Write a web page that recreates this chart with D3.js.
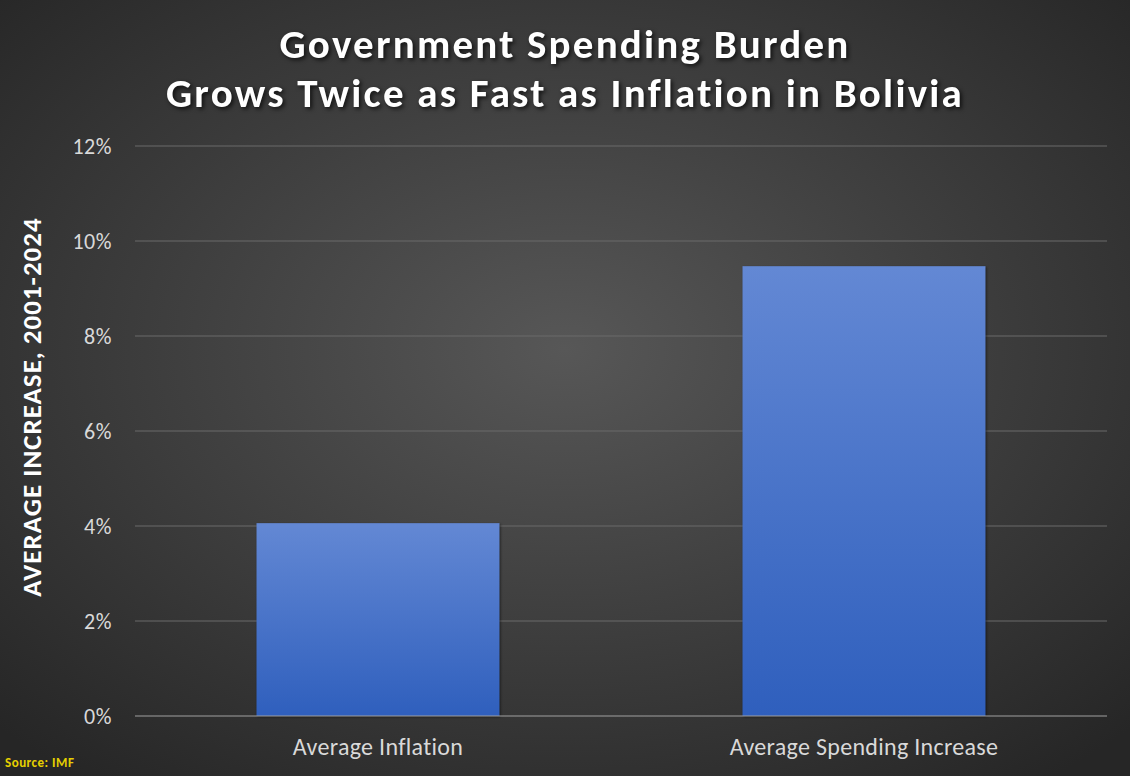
<!DOCTYPE html>
<html><head><meta charset="utf-8">
<script src="https://cdn.jsdelivr.net/npm/d3@7"></script>
<style>body{margin:0;background:#333}</style>
</head><body>
<svg id="c" width="1130" height="776"></svg>
<script>
const categories = ["Average Inflation", "Average Spending Increase"];
const values = [0.0406, 0.0947];
const yTicks = [0, 0.02, 0.04, 0.06, 0.08, 0.10, 0.12];

const svg = d3.select("#c");
const defs = svg.append("defs");
const rg = defs.append("radialGradient").attr("id","bg").attr("cx","50%").attr("cy","45%").attr("r","70%");
rg.append("stop").attr("offset","0%").attr("stop-color","#575757");
rg.append("stop").attr("offset","100%").attr("stop-color","#262626");
const bg = defs.append("linearGradient").attr("id","bar").attr("x1",0).attr("y1",0).attr("x2",0).attr("y2",1);
bg.append("stop").attr("offset","0%").attr("stop-color","#6388d4");
bg.append("stop").attr("offset","100%").attr("stop-color","#2f5fbd");

svg.append("rect").attr("width",1130).attr("height",776).attr("fill","url(#bg)");

const x = d3.scaleBand().domain(categories).range([135,1107]).paddingInner(0.5).paddingOuter(0.25);
const y = d3.scaleLinear().domain([0,0.12]).range([716,146]);

svg.append("g").selectAll("line").data(yTicks.slice(1)).join("line")
  .attr("x1",135).attr("x2",1107).attr("y1",d=>y(d)).attr("y2",d=>y(d))
  .attr("stroke","#6a6a6a").attr("stroke-width",1);

svg.append("g").selectAll("rect").data(values).join("rect")
  .attr("x",(d,i)=>x(categories[i])).attr("width",x.bandwidth())
  .attr("y",d=>y(d)).attr("height",d=>y(0)-y(d)).attr("fill","url(#bar)")
  .style("filter","drop-shadow(1px 1px 1px rgba(0,0,0,0.5))");

svg.append("line").attr("x1",135).attr("x2",1107).attr("y1",716).attr("y2",716).attr("stroke","#a0a0a0");

const font = "Carlito, Lato, 'Open Sans', sans-serif";
svg.append("g").selectAll("text").data(yTicks).join("text")
  .attr("x",112).attr("y",d=>y(d)+8).attr("text-anchor","end")
  .attr("fill","#d9d9d9").attr("font-family",font).attr("font-size",22).attr("letter-spacing",0.5)
  .text(d3.format(".0%"));

svg.append("g").selectAll("text").data(categories).join("text")
  .attr("x",d=>x(d)+x.bandwidth()/2).attr("y",755).attr("text-anchor","middle")
  .attr("fill","#d9d9d9").attr("font-family",font).attr("font-size",24).attr("letter-spacing",0.3).text(d=>d);

svg.append("text").attr("transform","translate(41,407) rotate(-90)").attr("text-anchor","middle")
  .attr("fill","#fff").attr("font-family",font).attr("font-weight","bold").attr("font-size",27)
  .attr("letter-spacing",1).text("AVERAGE INCREASE, 2001-2024");

const t = svg.append("text").attr("text-anchor","middle").attr("fill","#fff")
  .attr("font-family",font).attr("font-weight","bold").attr("font-size",41)
  .style("filter","drop-shadow(2px 2px 2px rgba(0,0,0,0.7))").attr("letter-spacing",2.2);
t.append("tspan").attr("x",565).attr("y",58).text("Government Spending Burden");
t.append("tspan").attr("x",565).attr("y",107).text("Grows Twice as Fast as Inflation in Bolivia");

svg.append("text").attr("x",5).attr("y",767).attr("fill","#e6d000")
  .attr("font-family",font).attr("font-weight","bold").attr("font-size",13).attr("letter-spacing",0.5).text("Source: IMF");
</script>
</body></html>
